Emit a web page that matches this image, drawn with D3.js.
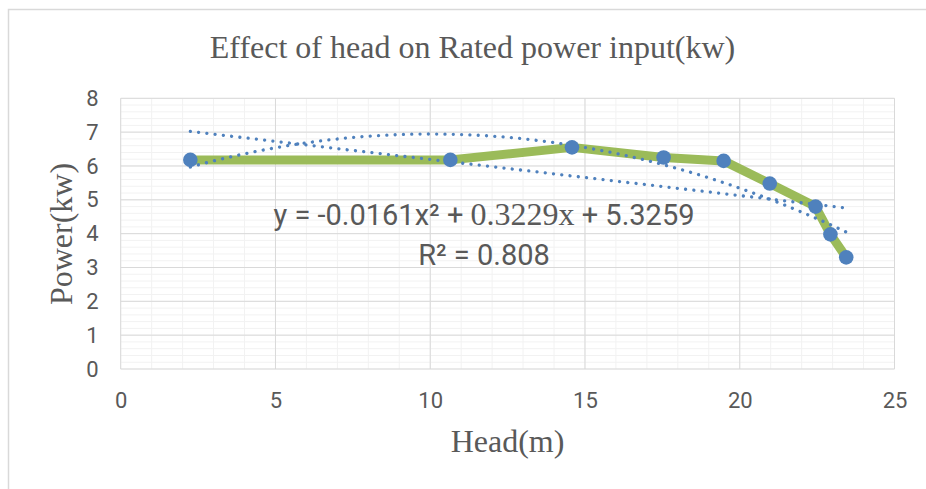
<!DOCTYPE html>
<html><head><meta charset="utf-8">
<script src="https://cdn.jsdelivr.net/npm/d3@7"></script>
<style>html,body{margin:0;padding:0;background:#fff;}svg{display:block;}</style>
</head><body>
<svg id="chart" width="926" height="489"></svg>
<script>
// ---- data ----
const headM = [2.25, 10.65, 14.58, 17.54, 19.48, 20.97, 22.45, 22.93, 23.44];
const powerKw = [6.18, 6.18, 6.55, 6.25, 6.15, 5.48, 4.80, 3.98, 3.30];
const xTicks = [0, 5, 10, 15, 20, 25];
const yTicks = [0, 1, 2, 3, 4, 5, 6, 7, 8];
const quadCoef = [-0.0161, 0.3229, 5.3259]; // a, b, c from the trendline label
const rSquared = "0.808";
const titleText = "Effect of head on Rated power input(kw)";
const xLabel = "Head(m)";
const yLabel = "Power(kw)";

const svg = d3.select("#chart");
const W = 926, H = 489;
const grey = "#595959";

// chart frame
svg.append("path").attr("d", `M8.5,${H+2} V9.5 H${W+2}`).attr("fill","none").attr("stroke","#D9D9D9").attr("stroke-width",1.5);

const x = d3.scaleLinear().domain([0, 25]).range([120.7, 894.5]);
const y = d3.scaleLinear().domain([0, 8]).range([369, 98.3]);

// minor grid
const g = svg.append("g");
g.selectAll(".mx").data(d3.range(0, 25.001, 1)).join("line")
  .attr("x1", d=>x(d)).attr("x2", d=>x(d)).attr("y1", y(0)).attr("y2", y(8))
  .attr("stroke", "#F2F2F2").attr("stroke-width", 1);
g.selectAll(".my").data(d3.range(0, 40.001, 1).map(i=>i*0.2)).join("line")
  .attr("y1", d=>y(d)).attr("y2", d=>y(d)).attr("x1", x(0)).attr("x2", x(25))
  .attr("stroke", "#F2F2F2").attr("stroke-width", 1);
// major grid
g.selectAll(".Mx").data(xTicks).join("line")
  .attr("x1", d=>x(d)).attr("x2", d=>x(d)).attr("y1", y(0)).attr("y2", y(8))
  .attr("stroke", "#D9D9D9").attr("stroke-width", 1);
g.selectAll(".My").data(yTicks).join("line")
  .attr("y1", d=>y(d)).attr("y2", d=>y(d)).attr("x1", x(0)).attr("x2", x(25))
  .attr("stroke", "#D9D9D9").attr("stroke-width", 1);

// axes (labels only)
const xa = svg.append("g").attr("transform", `translate(0,${y(0)})`)
  .call(d3.axisBottom(x).tickValues(xTicks).tickSize(0).tickPadding(23.5));
const ya = svg.append("g").attr("transform", `translate(${x(0)},0)`)
  .call(d3.axisLeft(y).tickValues(yTicks).tickSize(0).tickPadding(22));
[xa, ya].forEach(a => {
  a.select(".domain").remove();
  a.selectAll("text").attr("fill", grey).style("font-family", "Roboto, sans-serif").style("font-size", "22px");
});

// series line
const pts = headM.map((h, i) => [h, powerKw[i]]);
svg.append("path").datum(pts)
  .attr("d", d3.line().x(d=>x(d[0])).y(d=>y(d[1])))
  .attr("fill", "none").attr("stroke", "#9BBB59").attr("stroke-width", 9).attr("stroke-linejoin", "round");

// trendlines
const xmin = d3.min(headM), xmax = d3.max(headM);
const samples = d3.range(0, 101).map(i => xmin + (xmax - xmin) * i / 100);
const quad = samples.map(v => [v, quadCoef[0]*v*v + quadCoef[1]*v + quadCoef[2]]);
// linear least-squares trendline
const mx = d3.mean(headM), my = d3.mean(powerKw);
const slope = d3.sum(headM, (h,i)=>(h-mx)*(powerKw[i]-my)) / d3.sum(headM, h=>(h-mx)*(h-mx));
const icpt = my - slope*mx;
const lin = [[xmin, icpt + slope*xmin], [xmax, icpt + slope*xmax]];
[quad, lin].forEach(dd => {
  svg.append("path").datum(dd)
    .attr("d", d3.line().x(d=>x(d[0])).y(d=>y(d[1])).curve(d3.curveLinear))
    .attr("fill", "none").attr("stroke", "#4F81BD").attr("stroke-width", 3.3)
    .attr("stroke-dasharray", "0.01 8.3").attr("stroke-linecap", "round");
});

// markers
svg.selectAll(".pt").data(pts).join("circle")
  .attr("cx", d=>x(d[0])).attr("cy", d=>y(d[1])).attr("r", 7.3).attr("fill", "#4F81BD");

// trendline label
const eq = svg.append("text").attr("x", 484).attr("y", 225).attr("text-anchor", "middle").attr("fill", grey)
  .style("font-family", "Roboto, sans-serif").style("font-size", "29px");
eq.append("tspan").text(`y = ${quadCoef[0]}x² + `);
eq.append("tspan").style("font-family", "'Liberation Serif', serif").style("font-size", "32px").text(`${quadCoef[1]}x`);
eq.append("tspan").text(` + ${quadCoef[2]}`);
svg.append("text").attr("x", 484).attr("y", 265).attr("text-anchor", "middle").attr("fill", grey)
  .style("font-family", "Roboto, sans-serif").style("font-size", "29px").text(`R² = ${rSquared}`);

// titles
svg.append("text").attr("x", 472.5).attr("y", 58).attr("text-anchor", "middle").attr("fill", grey)
  .style("font-family", "'Liberation Serif', serif").style("font-size", "32px").text(titleText);
svg.append("text").attr("x", 507.5).attr("y", 452).attr("text-anchor", "middle").attr("fill", grey)
  .style("font-family", "'Liberation Serif', serif").style("font-size", "32px").text(xLabel);
svg.append("text").attr("transform", "translate(72,234) rotate(-90)").attr("text-anchor", "middle").attr("fill", grey)
  .style("font-family", "'Liberation Serif', serif").style("font-size", "32px").text(yLabel);
</script>
</body></html>
